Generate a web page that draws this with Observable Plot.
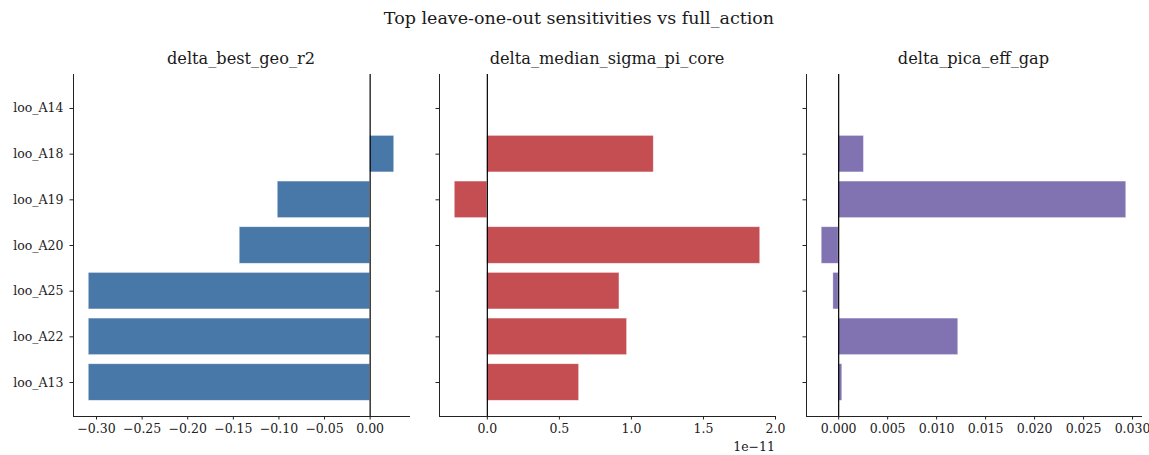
<!DOCTYPE html>
<html>
<head>
<meta charset="utf-8">
<script src="https://cdn.jsdelivr.net/npm/d3@7"></script>
<script src="https://cdn.jsdelivr.net/npm/@observablehq/plot@0.6"></script>
<style>
  body { margin: 0; background: #fff; }
  #fig { position: relative; width: 1149px; height: 455px; font-family: "DejaVu Serif", serif; color: #1a1a1a; }
  .t { position: absolute; white-space: nowrap; transform: translate(-50%, -50%); line-height: 1.1; }
  .panel { position: absolute; top: 64px; }
</style>
</head>
<body>
<div id="fig"></div>
<script>
// Leave-one-out runs, listed top to bottom
const runs = ["loo_A14", "loo_A18", "loo_A19", "loo_A20", "loo_A25", "loo_A22", "loo_A13"];

// Change of each metric relative to full_action
const deltaBestGeoR2 = [0, 0.0264, -0.1013, -0.143, -0.3085, -0.3085, -0.3085];
const deltaMedianSigmaPiCore = [0, 1.155e-11, -0.226e-11, 1.894e-11, 0.917e-11, 0.970e-11, 0.637e-11];
const deltaPicaEffGap = [0, 0.00258, 0.02936, -0.00173, -0.00054, 0.01221, 0.00037];

// Tick values for each panel's x axis
const ticksGeo = [-0.30, -0.25, -0.20, -0.15, -0.10, -0.05, 0.00];
const ticksSigma = [0, 0.5e-11, 1.0e-11, 1.5e-11, 2.0e-11];
const ticksPica = [0, 0.005, 0.010, 0.015, 0.020, 0.025, 0.030];

const minus = s => s.replace("-", "\u2212");

const panels = [
  { title: "delta_best_geo_r2", values: deltaBestGeoR2, color: "#4878a8", ticks: ticksGeo,
    fmt: d => minus(d.toFixed(2)), left: 0, width: 420, marginLeft: 73, marginRight: 11, labels: true },
  { title: "delta_median_sigma_pi_core", values: deltaMedianSigmaPiCore, color: "#c44e52", ticks: ticksSigma,
    fmt: d => minus((d / 1e-11).toFixed(1)), left: 420, width: 370, marginLeft: 19, marginRight: 15, labels: false,
    offset: "1e\u221211" },
  { title: "delta_pica_eff_gap", values: deltaPicaEffGap, color: "#8172b2", ticks: ticksPica,
    fmt: d => minus(d.toFixed(3)), left: 790, width: 359, marginLeft: 16, marginRight: 8, labels: false }
];

const fig = document.getElementById("fig");

function addText(txt, x, y, size, extra = {}) {
  const el = document.createElement("div");
  el.className = "t";
  el.textContent = txt;
  el.style.left = x + "px";
  el.style.top = y + "px";
  el.style.fontSize = size + "px";
  Object.assign(el.style, extra);
  fig.appendChild(el);
  return el;
}

addText("Top leave-one-out sensitivities vs full_action", 579, 19, 17.5);

const H = 391, MT = 10, MB = 39;

for (const p of panels) {
  const data = runs.map((run, i) => ({ run, v: p.values[i] }));
  // 5% margin around the data extent (bars start at zero)
  const lo = Math.min(0, d3.min(p.values)), hi = Math.max(0, d3.max(p.values));
  const pad = (hi - lo) * 0.05;

  const chart = Plot.plot({
    width: p.width,
    height: H,
    marginTop: MT,
    marginBottom: MB,
    marginLeft: p.marginLeft,
    marginRight: p.marginRight,
    style: { fontFamily: "DejaVu Serif, serif", fontSize: "12.5px", color: "#222", background: "transparent", overflow: "visible" },
    x: { domain: [lo - pad, hi + pad], ticks: p.ticks, tickFormat: p.fmt, tickSize: 3.5, tickPadding: 4, label: null, line: true },
    y: { type: "band", domain: runs, paddingInner: 0.2, paddingOuter: 0.344, round: false, label: null,
         tickSize: 3.5, tickPadding: 6.5, tickFormat: p.labels ? (d => d) : (() => ""), line: true },
    marks: [
      Plot.barX(data, { x1: () => 0, x2: "v", y: "run", fill: p.color, stroke: "#fff", strokeWidth: 0.7, strokeOpacity: 0.55 }),
      Plot.ruleX([0], { stroke: "#000", strokeWidth: 1.2 })
    ]
  });

  const wrap = document.createElement("div");
  wrap.className = "panel";
  wrap.style.left = p.left + "px";
  wrap.appendChild(chart);
  fig.appendChild(wrap);

  const cx = p.left + p.marginLeft + (p.width - p.marginLeft - p.marginRight) / 2;
  addText(p.title, cx, 59, 16.2);

  if (p.offset) {
    const right = p.left + p.width - p.marginRight;
    addText(p.offset, right, 447, 12.5, { transform: "translate(-100%, -50%)" });
  }
}
</script>
</body>
</html>
